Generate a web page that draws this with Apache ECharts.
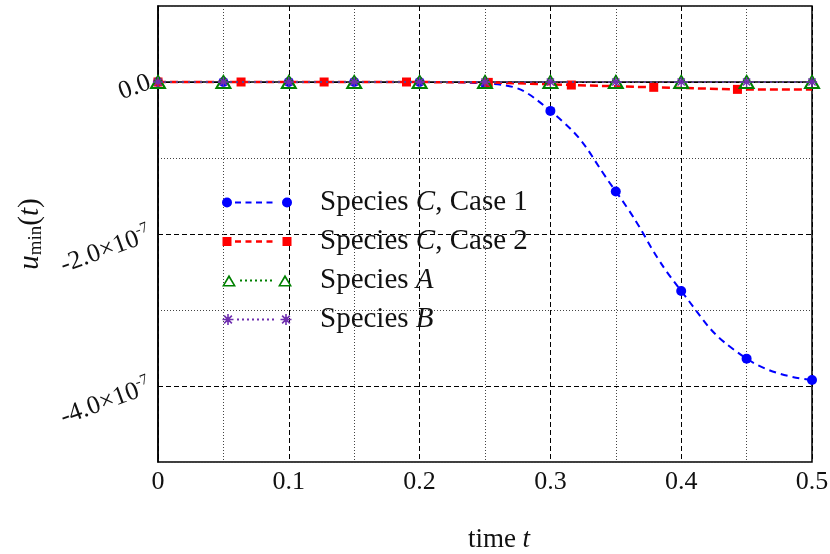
<!DOCTYPE html>
<html><head><meta charset="utf-8">
<script src="https://cdn.jsdelivr.net/npm/echarts@6/dist/echarts.min.js"></script>
<style>html,body{margin:0;padding:0;background:#fff}#c{width:830px;height:554px}</style>
</head><body><div id="c"></div>
<script>
// ---- data ----
const tGrid = [0, 0.05, 0.1, 0.15, 0.2, 0.25, 0.3, 0.35, 0.4, 0.45, 0.5];
const caseC1 = [0, 0, 0, 0, 0, -0.02e-7, -0.38e-7, -1.44e-7, -2.75e-7, -3.64e-7, -3.92e-7];
const tCase2 = [0, 0.0635, 0.127, 0.19, 0.2525, 0.316, 0.379, 0.443, 0.5];
const caseC2 = [0, 0, 0, 0, -0.005e-7, -0.04e-7, -0.07e-7, -0.097e-7, -0.1e-7];
const speciesA = [0, 0, 0, 0, 0, 0, 0, 0, 0, 0, 0];
const speciesB = [0, 0, 0, 0, 0, 0, 0, 0, 0, 0, 0];
const names = ['Species C, Case 1', 'Species C, Case 2', 'Species A', 'Species B'];

// ---- styles ----
const FONT = 'Liberation Serif';
const TXT = '#111';
const BLUE = '#0000ff', RED = '#ff0000', GREEN = '#008000', PURPLE = '#7030b0';
const NONE = 'rgba(0,0,0,0)';

function f(n){return n.toFixed(2);}
function rotRect(cx, cy, len, th, ang){
  const c = Math.cos(ang), s = Math.sin(ang);
  const pts = [[-len,-th],[len,-th],[len,th],[-len,th]].map(([u,v]) => [cx + u*c - v*s, cy + u*s + v*c]);
  return 'M' + pts.map(p => f(p[0]) + ',' + f(p[1])).join('L') + 'Z';
}
function asterisk(cx, cy, r, th){
  return rotRect(cx,cy,r,th,0) + rotRect(cx,cy,r,th,Math.PI/2) + rotRect(cx,cy,r,th,Math.PI/4) + rotRect(cx,cy,r,th,3*Math.PI/4);
}
function circle(cx, cy, r){
  return `M${cx-r},${cy}A${r},${r} 0 1 1 ${cx+r},${cy}A${r},${r} 0 1 1 ${cx-r},${cy}Z`;
}
function square(cx, cy, h){
  return `M${cx-h},${cy-h}L${cx+h},${cy-h}L${cx+h},${cy+h}L${cx-h},${cy+h}Z`;
}
function hollowTri(cx, cy){
  return `M${cx-7},${cy+6}L${cx},${cy-6}L${cx+7},${cy+6}Z` +
         `M${cx-4.3},${cy+4.5}L${cx+4.3},${cy+4.5}L${cx},${cy-2.6}Z`;
}
function dashes(x0, x1, d, g, cy, h){
  let s = '';
  for (let x = x0; x + d <= x1 + 0.01; x += d + g) {
    s += `M${f(x)},${cy-h}L${f(x+d)},${cy-h}L${f(x+d)},${cy+h}L${f(x)},${cy+h}Z`;
  }
  return s;
}
const IW = 70, W = 93, H = 14, CY = 7;   // icon drawn in first IW px of a W-wide box
const anchor = `M0,0L0,0M${W},${H}L${W},${H}`;
const iconBlue = 'path://' + anchor + circle(5, CY, 5) + circle(IW-5, CY, 5) + dashes(13, 58, 6, 4.5, CY, 1);
const iconRed = 'path://' + anchor + square(5, CY, 4.5) + square(IW-5, CY, 4.5) + dashes(13, 58, 6, 4.5, CY, 1.2);
const iconGreen = 'path://' + anchor + hollowTri(7, CY) + hollowTri(IW-7, CY) + dashes(18, 53, 2, 3, CY, 1);
const iconPurple = 'path://' + anchor + asterisk(6, CY, 5.5, 0.8) + asterisk(IW-6, CY, 5.5, 0.8) + dashes(15, 56, 2, 3, CY, 1);
const starSymbol = 'path://M0,0L0,0M14,14L14,14' + asterisk(7, 7, 6.5, 0.9);

function legendFmt(name){
  const m = name.match(/^Species (\w)(.*)$/);
  return '{r|Species }{i|' + m[1] + '}' + (m[2] ? '{r|' + m[2] + '}' : '');
}

const yRange = {type: 'value', min: -5e-7, max: 1e-7, interval: 1e-7};

const chart = echarts.init(document.getElementById('c'));
chart.setOption({
  animation: false,
  backgroundColor: '#fff',
  grid: {left: 158, right: 18, top: 6, bottom: 92, show: true, borderColor: '#000', borderWidth: 1.5, containLabel: false, outerBoundsMode: 'none'},
  legend: {
    orient: 'vertical', left: 217, top: 183, itemWidth: W, itemHeight: H, itemGap: 10, selectedMode: false,
    formatter: legendFmt,
    textStyle: {
      fontFamily: FONT, fontSize: 29, color: TXT, lineHeight: 29,
      rich: {
        r: {fontFamily: FONT, fontSize: 29, color: TXT},
        i: {fontFamily: FONT, fontSize: 29, fontStyle: 'italic', color: TXT}
      }
    },
    data: [
      {name: names[0], icon: iconBlue, itemStyle: {color: BLUE, borderWidth: 0}},
      {name: names[1], icon: iconRed, itemStyle: {color: RED, borderWidth: 0}},
      {name: names[2], icon: iconGreen, itemStyle: {color: GREEN, borderWidth: 0}},
      {name: names[3], icon: iconPurple, itemStyle: {color: PURPLE, borderWidth: 0}}
    ]
  },
  xAxis: {
    type: 'value', min: 0, max: 0.5, interval: 0.1,
    name: '{r|time }{i|t}', nameLocation: 'middle', nameGap: 64,
    nameTextStyle: {padding: [0, 0, 0, 28], rich: {
      r: {fontFamily: FONT, fontSize: 27, color: TXT},
      i: {fontFamily: FONT, fontSize: 27, fontStyle: 'italic', color: TXT}
    }},
    axisLine: {lineStyle: {color: '#000', width: 1.5}},
    axisTick: {show: false},
    axisLabel: {fontFamily: FONT, fontSize: 26, color: TXT, margin: 7,
      formatter: v => v === 0 ? '0' : v.toFixed(1)},
    splitLine: {show: true, lineStyle: {color: '#000', width: 1, type: [5, 3]}},
    minorTick: {show: false, splitNumber: 2},
    minorSplitLine: {show: true, lineStyle: {color: '#444', width: 1, type: [1, 2]}}
  },
  yAxis: [
    Object.assign({}, yRange, {
      name: '{i|u}{s|min}{r|(}{i|t}{r|)}', nameLocation: 'middle', nameRotate: 90, nameGap: 108,
      nameTextStyle: {rich: {
        r: {fontFamily: FONT, fontSize: 29, color: TXT},
        i: {fontFamily: FONT, fontSize: 29, fontStyle: 'italic', color: TXT},
        s: {fontFamily: FONT, fontSize: 19, color: TXT, padding: [11, 0, 0, 0]}
      }},
      axisLine: {lineStyle: {color: '#000', width: 1.5}},
      axisTick: {show: false},
      // major grid lines (dashed) at even multiples: alternate visible / invisible starting at min
      splitLine: {show: true, lineStyle: {color: [NONE, '#000'], width: 1, type: [5, 3]}},
      axisLabel: {
        rotate: 20, margin: 8,
        formatter: v => {
          const k = Math.round(v / 1e-7);
          if (k === 0) return '{n|0.0}';
          if (k < 0 && k % 2 === 0) return '{n|' + k + '.0×10}{s|-7}';
          return '';
        },
        rich: {
          n: {fontFamily: FONT, fontSize: 26, color: TXT},
          s: {fontFamily: FONT, fontSize: 15, color: TXT, padding: [0, 0, 15, 0]}
        }
      }
    }),
    Object.assign({}, yRange, {
      position: 'left',
      axisLine: {show: false}, axisTick: {show: false}, axisLabel: {show: false},
      // minor grid lines (dotted) at odd multiples
      splitLine: {show: true, lineStyle: {color: ['#444', NONE], width: 1, type: [1, 2]}}
    })
  ],
  series: [
    {
      name: names[0], type: 'line', z: 3, smooth: 0.5,
      data: tGrid.map((t, i) => [t, caseC1[i]]),
      symbol: 'circle', symbolSize: 10,
      itemStyle: {color: BLUE},
      lineStyle: {color: BLUE, width: 2, type: [7, 5]}
    },
    {
      name: names[1], type: 'line', z: 4,
      data: tCase2.map((t, i) => i === tCase2.length - 1 ? {value: [t, caseC2[i]], symbol: 'none'} : [t, caseC2[i]]),
      symbol: 'rect', symbolSize: 9,
      itemStyle: {color: RED},
      lineStyle: {color: RED, width: 2.5, type: [8, 4]}
    },
    {
      name: names[2], type: 'line', z: 5,
      data: tGrid.map((t, i) => [t, speciesA[i]]),
      symbol: 'triangle', symbolSize: [14, 12],
      itemStyle: {color: NONE, borderColor: GREEN, borderWidth: 2},
      lineStyle: {color: GREEN, width: 2, type: [2, 4]}
    },
    {
      name: names[3], type: 'line', z: 6,
      data: tGrid.map((t, i) => [t, speciesB[i]]),
      symbol: starSymbol, symbolSize: 11,
      itemStyle: {color: PURPLE},
      lineStyle: {color: PURPLE, width: 2, type: [2, 4], opacity: 0.8}
    }
  ]
});
</script></body></html>
